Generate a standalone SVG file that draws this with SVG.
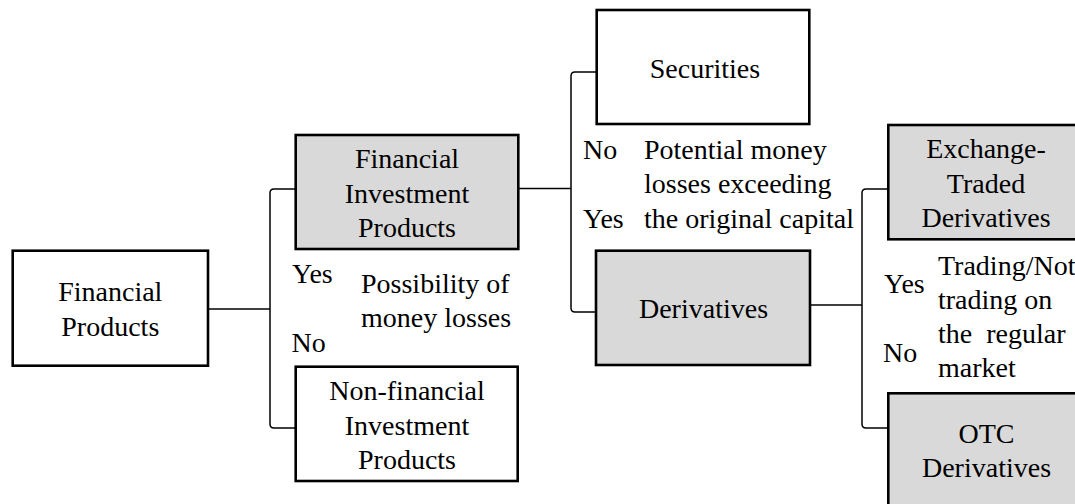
<svg xmlns="http://www.w3.org/2000/svg" width="1075" height="504" viewBox="0 0 1075 504">
<style>
.box{fill:#ffffff;stroke:#000000;stroke-width:2.6}
.gray{fill:#d9d9d9}
.t{font-size:28px;fill:#000000}
.c{text-anchor:middle}
.conn{fill:none;stroke:#000000;stroke-width:1.5}
.pre{white-space:pre}
</style>
<rect width="1075" height="504" fill="#ffffff"/>
<g id="connectors">
<path class="conn" d="M208,309 L270,309"/>
<path class="conn" d="M296,189 L274,189 Q270,189 270,193 L270,424 Q270,428 274,428 L296,428"/>
<path class="conn" d="M518,188.5 L571,188.5"/>
<path class="conn" d="M597,72 L575,72 Q571,72 571,76 L571,308 Q571,312 575,312 L596,312"/>
<path class="conn" d="M810,305 L862,305"/>
<path class="conn" d="M888,189 L866,189 Q862,189 862,193 L862,424 Q862,428 866,428 L888,428"/>
</g>
<g font-family="Liberation Serif, Times New Roman, DejaVu Serif, serif">
<g id="financial-products">
<rect class="box" x="12.7" y="250.7" width="195.3" height="115"/>
<text class="t c" x="110.3" y="301">Financial</text>
<text class="t c" x="110.3" y="336">Products</text>
</g>
<g id="financial-investment-products">
<rect class="box gray" x="295.7" y="135" width="222.6" height="114"/>
<text class="t c" x="407" y="168.3">Financial</text>
<text class="t c" x="407" y="203.3">Investment</text>
<text class="t c" x="407" y="237.3">Products</text>
</g>
<g id="non-financial-investment-products">
<rect class="box" x="295.7" y="366.7" width="222" height="114.3"/>
<text class="t c" x="407" y="400">Non-financial</text>
<text class="t c" x="407" y="435">Investment</text>
<text class="t c" x="407" y="469">Products</text>
</g>
<g id="label-loss">
<text class="t" x="292" y="283">Yes</text>
<text class="t" x="291.5" y="352">No</text>
<text class="t" x="361" y="293">Possibility of</text>
<text class="t" x="361" y="327">money losses</text>
</g>
<g id="securities">
<rect class="box" x="596.7" y="10" width="212.6" height="114"/>
<text class="t c" x="705" y="78.3">Securities</text>
</g>
<g id="derivatives">
<rect class="box gray" x="596" y="250.7" width="214" height="114.3"/>
<text class="t c" x="703.5" y="318.3">Derivatives</text>
</g>
<g id="label-capital">
<text class="t" x="583" y="159.3">No</text>
<text class="t" x="644" y="159.3">Potential money</text>
<text class="t" x="644" y="193.3">losses exceeding</text>
<text class="t" x="583" y="228.3">Yes</text>
<text class="t" x="644" y="228.3">the original capital</text>
</g>
<g id="exchange-traded-derivatives">
<rect class="box gray" x="888.3" y="125" width="196" height="114.3"/>
<text class="t c" x="986" y="158.3">Exchange-</text>
<text class="t c" x="986" y="192.5">Traded</text>
<text class="t c" x="986" y="227.3">Derivatives</text>
</g>
<g id="otc-derivatives">
<rect class="box gray" x="888.3" y="393.3" width="196" height="115"/>
<text class="t c" x="986.5" y="442.5">OTC</text>
<text class="t c" x="986.5" y="476.7">Derivatives</text>
</g>
<g id="label-market">
<text class="t" x="884" y="293.3">Yes</text>
<text class="t" x="938" y="275">Trading/Not</text>
<text class="t" x="938" y="309.3">trading on</text>
<text class="t pre" x="938" y="343.3" xml:space="preserve">the  regular</text>
<text class="t" x="883" y="362.3">No</text>
<text class="t" x="938" y="376.7">market</text>
</g>
</g>
</svg>
